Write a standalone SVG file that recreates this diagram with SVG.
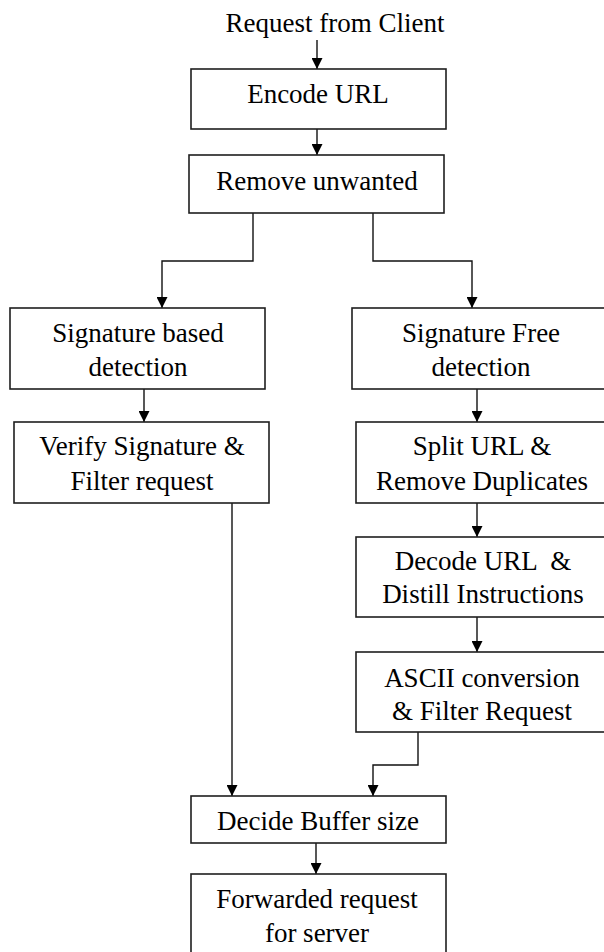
<svg xmlns="http://www.w3.org/2000/svg" width="604" height="952" viewBox="0 0 604 952">
  <style>
    .box { fill: #ffffff; stroke: #1e1e1e; stroke-width: 1.6; }
    .lbl { font-family: "Liberation Serif", "Times New Roman", serif; font-size: 27px; fill: #000000; text-anchor: middle; }
    .wire { fill: none; stroke: #111111; stroke-width: 1.4; }
  </style>
  <defs>
    <marker id="arrow" markerUnits="userSpaceOnUse" markerWidth="12" markerHeight="11" refX="11" refY="5.5" orient="auto">
      <path d="M0,0 L11,5.5 L0,11 Z" fill="#000000"/>
    </marker>
  </defs>
  <rect width="604" height="952" fill="#ffffff"/>

  <!-- flow connectors -->
  <g id="connectors" class="wire" marker-end="url(#arrow)">
    <path d="M317,40 V69"/>
    <path d="M317,129 V155"/>
    <path d="M253,213 V261 H162 V308"/>
    <path d="M373,213 V261 H472 V308"/>
    <path d="M144,389 V422"/>
    <path d="M477,389 V422"/>
    <path d="M477,503 V537"/>
    <path d="M477,617 V652"/>
    <path d="M232,503 V796"/>
    <path d="M418,732 V765 H373 V796"/>
    <path d="M316,843 V874"/>
  </g>

  <g id="start">
    <text class="lbl" x="335" y="32">Request from Client</text>
  </g>

  <g id="encode-url">
    <rect class="box" x="191" y="69" width="255" height="60"/>
    <text class="lbl" x="318" y="103">Encode URL</text>
  </g>

  <g id="remove-unwanted">
    <rect class="box" x="189" y="155" width="255" height="58"/>
    <text class="lbl" x="317" y="190">Remove unwanted</text>
  </g>

  <g id="signature-based">
    <rect class="box" x="10" y="308" width="255" height="81"/>
    <text class="lbl" x="138" y="342">Signature based</text>
    <text class="lbl" x="138" y="376">detection</text>
  </g>

  <g id="verify-signature">
    <rect class="box" x="14" y="422" width="255" height="81"/>
    <text class="lbl" x="142" y="455">Verify Signature &amp;</text>
    <text class="lbl" x="142" y="490">Filter request</text>
  </g>

  <g id="signature-free">
    <rect class="box" x="352" y="308" width="258" height="81"/>
    <text class="lbl" x="481" y="342">Signature Free</text>
    <text class="lbl" x="481" y="376">detection</text>
  </g>

  <g id="split-url">
    <rect class="box" x="356" y="422" width="252" height="81"/>
    <text class="lbl" x="482" y="455">Split URL &amp;</text>
    <text class="lbl" x="482" y="490">Remove Duplicates</text>
  </g>

  <g id="decode-url">
    <rect class="box" x="356" y="537" width="252" height="80"/>
    <text class="lbl" x="483" y="570" xml:space="preserve">Decode URL  &amp;</text>
    <text class="lbl" x="483" y="603">Distill Instructions</text>
  </g>

  <g id="ascii-conversion">
    <rect class="box" x="356" y="652" width="252" height="80"/>
    <text class="lbl" x="482" y="687">ASCII conversion</text>
    <text class="lbl" x="482" y="720">&amp; Filter Request</text>
  </g>

  <g id="decide-buffer">
    <rect class="box" x="191" y="796" width="255" height="47"/>
    <text class="lbl" x="318" y="830">Decide Buffer size</text>
  </g>

  <g id="forwarded-request">
    <rect class="box" x="191" y="874" width="255" height="86"/>
    <text class="lbl" x="317" y="908">Forwarded request</text>
    <text class="lbl" x="317" y="942">for server</text>
  </g>
</svg>
